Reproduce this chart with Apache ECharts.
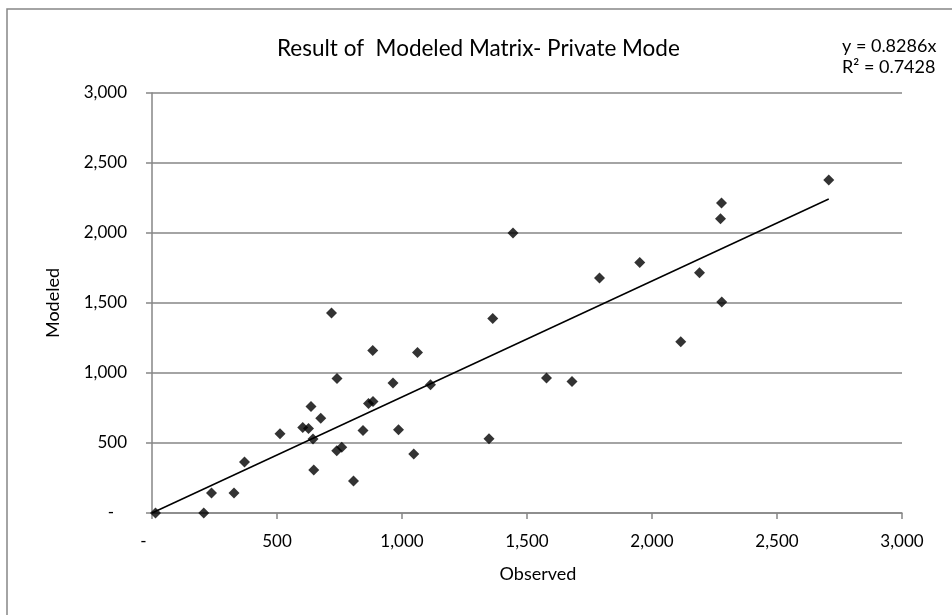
<!DOCTYPE html>
<html>
<head>
<meta charset="utf-8">
<title>Result of Modeled Matrix- Private Mode</title>
<script src="https://cdn.jsdelivr.net/npm/echarts@6/dist/echarts.min.js"></script>
<style>
  html, body { margin: 0; padding: 0; background: #fff; }
  #chart { width: 952px; height: 615px; }
</style>
</head>
<body>
<div id="chart"></div>
<script>
// observed / modeled pairs
var observed = [14, 207, 238, 328, 370, 512, 603, 626, 636, 644, 647, 675, 718, 740, 739, 759, 806,
  844, 866, 884, 883, 964, 986, 1047, 1062, 1114, 1348, 1363, 1444, 1578, 1680, 1790, 1951,
  2115, 2190, 2274, 2278, 2279, 2707];
var modeled = [0, 0, 143, 143, 364, 566, 611, 604, 761, 529, 307, 676, 1429, 961, 445, 469, 229,
  590, 783, 797, 1161, 929, 595, 421, 1147, 916, 531, 1390, 2000, 964, 940, 1679, 1790,
  1224, 1716, 2102, 2214, 1507, 2379];
var axisTicks = [0, 500, 1000, 1500, 2000, 2500, 3000];
var slope = 0.8286;
var r2 = 0.7428;

var points = observed.map(function (x, i) { return [x, modeled[i]]; });
var xMax = Math.max.apply(null, observed);
var trend = [[0, 0], [xMax, slope * xMax]];

var fmt = function (v) {
  return v === 0 ? '-' : v.toLocaleString('en-US');
};
var font = 'Lato, "Open Sans", sans-serif';
var gray = '#868686';

var chart = echarts.init(document.getElementById('chart'));
chart.setOption({
  animation: false,
  backgroundColor: '#fff',
  textStyle: { fontFamily: font },
  title: {
    text: 'Result of  Modeled Matrix- Private Mode',
    left: 272,
    top: 32,
    textStyle: { fontFamily: font, fontSize: 22.5, fontWeight: 'normal', color: '#000' }
  },
  grid: { left: 152, top: 93, right: 50, bottom: 102, containLabel: false },
  xAxis: {
    type: 'value',
    min: axisTicks[0],
    max: axisTicks[axisTicks.length - 1],
    interval: 500,
    name: 'Observed',
    nameLocation: 'middle',
    nameGap: 52,
    nameTextStyle: { fontFamily: font, fontSize: 18, color: '#000', padding: [0, 0, 0, 22] },
    axisLine: { show: true, onZero: false, lineStyle: { color: gray, width: 1.5 } },
    axisTick: { show: true, inside: false, length: 6, lineStyle: { color: gray, width: 1.5 } },
    axisLabel: {
      margin: 20, fontFamily: font, fontSize: 17, color: '#000',
      formatter: function (v) { return v === 0 ? '-    ' : fmt(v); }
    },
    splitLine: { show: false }
  },
  yAxis: {
    type: 'value',
    min: axisTicks[0],
    max: axisTicks[axisTicks.length - 1],
    interval: 500,
    name: 'Modeled',
    nameLocation: 'middle',
    nameGap: 90,
    nameTextStyle: { fontFamily: font, fontSize: 18, color: '#000' },
    axisLine: { show: true, onZero: false, lineStyle: { color: gray, width: 1.5 } },
    axisTick: { show: true, inside: false, length: 6, lineStyle: { color: gray, width: 1.5 } },
    axisLabel: {
      margin: 25, fontFamily: font, fontSize: 17, color: '#000',
      formatter: function (v) { return v === 0 ? '-   ' : fmt(v); }
    },
    splitLine: { show: true, lineStyle: { color: gray, width: 1.5 } }
  },
  graphic: [
    {
      type: 'rect',
      shape: { x: 7, y: 9, width: 980, height: 640 },
      style: { fill: 'none', stroke: gray, lineWidth: 1.5 },
      silent: true
    },
    {
      type: 'text',
      left: 842,
      top: 36,
      style: {
        text: 'y = ' + slope + 'x\nR\u00b2 = ' + r2,
        font: '18px ' + font,
        lineHeight: 21,
        fill: '#000'
      }
    }
  ],
  series: [
    {
      type: 'scatter',
      data: points,
      symbol: 'diamond',
      symbolSize: 11,
      itemStyle: { color: '#000' },
      z: 3
    },
    {
      type: 'line',
      data: trend,
      symbol: 'none',
      lineStyle: { color: '#000', width: 1.5 },
      z: 2
    }
  ]
});
</script>
</body>
</html>
